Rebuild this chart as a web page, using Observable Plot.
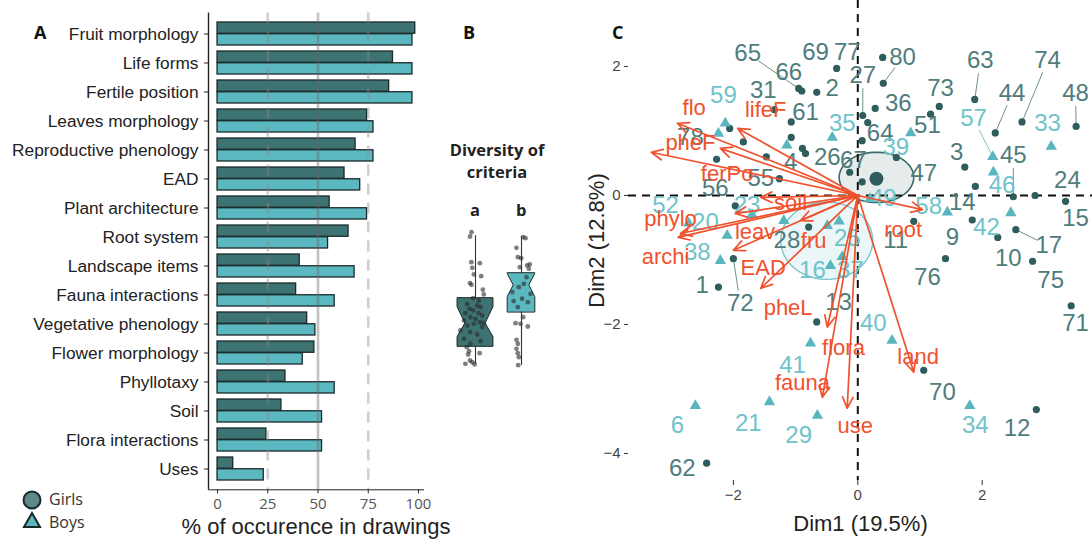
<!DOCTYPE html>
<html><head><meta charset="utf-8">
<script src="https://cdn.jsdelivr.net/npm/d3@7"></script>
<script src="https://cdn.jsdelivr.net/npm/@observablehq/plot@0.6"></script>
<style>
body{margin:0;background:#fff;}
#wrap{position:relative;width:1092px;height:542px;overflow:hidden;background:#fff;}
.pan{position:absolute;top:0;}
.plet{position:absolute;font-family:"Open Sans",sans-serif;font-weight:700;font-size:18px;color:#111;line-height:1;}
.btitle{position:absolute;font-family:"Open Sans",sans-serif;font-weight:700;font-size:16.5px;color:#222;text-align:center;line-height:22px;}
.leg{position:absolute;font-family:"Open Sans",sans-serif;font-size:16px;color:#333;line-height:23px;}
.pa g[aria-label="x-axis tick label"] text{font-family:"Open Sans",sans-serif;fill:#555;font-size:15px;}
.pa g[aria-label="y-axis tick label"] text{fill:#222;font-size:17.3px;}
.pa g[aria-label="x-axis label"] text{font-size:22px;fill:#222;}
.pc g[aria-label="x-axis tick label"] text,.pc g[aria-label="y-axis tick label"] text{fill:#444;font-size:15px;}
.pc g[aria-label="x-axis label"] text,.pc g[aria-label="y-axis label"] text{font-size:22px;fill:#222;}
</style>
</head><body>
<div id="wrap"></div>
<script>
// ---------- Panel A data ----------
const categories = ["Fruit morphology","Life forms","Fertile position","Leaves morphology","Reproductive phenology","EAD","Plant architecture","Root system","Landscape items","Fauna interactions","Vegetative phenology","Flower morphology","Phyllotaxy","Soil","Flora interactions","Uses"];
const girlsPct = [98.4, 87.3, 85.4, 74.4, 68.7, 63.2, 55.8, 65.2, 40.9, 39.1, 44.6, 48.2, 33.8, 31.8, 24.3, 7.8];
const boysPct  = [97.0, 97.0, 97.0, 77.6, 77.6, 71.0, 74.4, 55.0, 68.2, 58.3, 48.7, 42.4, 58.3, 52.0, 52.0, 23.0];
const xTicksA = [0, 25, 50, 75, 100];

// ---------- Panel B data (diversity of criteria) ----------
const boxGroups = ["Girls", "Boys"];
const boxCenter = [0, 1];
const boxLow    = [0.9, 0.78];
const boxQ1     = [2.89, 6.7];
const boxNotchLo= [3.92, 8.37];
const boxMedian = [5.44, 9.67];
const boxNotchHi= [7.26, 10.95];
const boxQ3     = [8.26, 11.03];
const boxHigh   = [15.2, 15.1];
const girlsDiv = [15.59,15.11,12.26,12.15,11.63,10.89,10.70,9.93,9.74,9.19,8.67,8.26,8.0,7.63,7.44,7.26,7.07,6.89,6.59,6.59,6.33,6.15,5.96,5.78,5.59,5.48,5.22,5.41,5.04,4.67,4.48,4.22,3.74,3.48,3.19,2.81,2.37,2.15,2.0,1.33,1.15,0.96,0.89];
const girlsJit = [-0.087,-0.12,-0.09,0.094,-0.07,-0.036,0.123,-0.12,-0.087,0.16,0.18,-0.051,0.072,-0.181,0.036,0.109,-0.13,-0.05,-0.22,0.07,0.145,-0.11,0,-0.25,0.094,0.18,-0.18,-0.036,0.145,-0.33,-0.12,0.036,-0.25,0.11,-0.11,-0.19,-0.14,0.09,-0.16,-0.12,-0.07,-0.22,-0.02];
const boysDiv = [15.04,14.92,13.85,12.81,12.70,11.89,12.0,11.70,11.52,10.59,9.85,9.48,8.93,8.74,8.19,7.93,7.81,7.26,6.15,5.48,5.41,5.11,3.63,3.19,2.63,2.15,1.70,0.81];
const boysJit = [0.036,0.087,-0.109,-0.08,-0.007,0.123,0.18,-0.036,0.16,0.109,0.05,-0.058,-0.2,0.196,0.014,-0.17,0.138,-0.08,0.036,-0.13,-0.022,0.138,-0.109,-0.08,-0.109,-0.08,-0.058,-0.072];

// ---------- Panel C data (PCA biplot) ----------
const gLab = ["65","66","2","69","77","80","27","31","61","36","73","51","64","63","44","74","48","3","45","24","47","67","26","4","55","56","78","14","9","17","10","75","15","76","71","11","28","1","72","13","12","62","70","","","","","",""];
const gX   = [-0.95,-0.90,-0.66,-0.34,0.40,0.41,0.08,-1.34,-1.07,0.28,1.31,1.17,0.16,1.88,2.21,2.64,3.51,1.72,2.50,2.85,0.62,-0.13,-0.84,-1.47,-1.26,-2.27,-2.06,1.89,1.84,2.54,2.25,2.81,3.34,1.41,3.43,0.90,-0.79,-2.24,-2.00,-0.66,2.87,-2.43,1.06,-1.84,-1.07,-0.89,0.07,0.07,-1.97];
const gY   = [1.66,1.62,1.60,1.97,2.14,1.74,1.24,1.33,1.14,1.35,1.38,1.26,1.13,1.49,0.97,1.14,1.07,0.44,-0.02,0.0,0.59,0.36,0.65,0.60,0.26,0.56,1.04,0.14,-0.38,-0.53,-0.65,-1.02,-0.09,-0.98,-1.71,-0.40,-0.49,-1.42,-0.98,-1.96,-3.32,-4.15,-2.71,0.83,0.90,0.73,0.85,0.21,-0.16];
const gLX  = [-1.77,-1.11,-0.41,-0.68,-0.17,0.72,0.08,-1.52,-0.84,0.65,1.33,1.12,0.36,1.97,2.48,3.05,3.50,1.59,2.50,3.37,1.06,-0.07,-0.49,-1.08,-1.56,-2.29,-2.69,1.68,1.52,3.07,2.42,3.10,3.50,1.12,3.50,0.61,-1.14,-2.50,-1.89,-0.31,2.56,-2.82,1.36,0,0,0,0,0,0];
const gLY  = [2.20,1.91,1.66,2.22,2.22,2.14,1.86,1.63,1.29,1.43,1.66,1.09,0.96,2.09,1.58,2.09,1.58,0.67,0.62,0.23,0.34,0.54,0.59,0.52,0.26,0.11,0.90,-0.10,-0.65,-0.78,-0.98,-1.32,-0.36,-1.27,-1.98,-0.70,-0.70,-1.40,-1.67,-1.65,-3.61,-4.23,-3.05,0,0,0,0,0,0];
const gLeaders = ["65","27","80","63","44","74","48","45","17","72"];

const bLab = ["59","35","39","57","33","46","58","42","52","20","38","16","25","37","23","49","40","41","21","6","29","34","","","",""];
const bX   = [-2.13,-0.41,0.85,2.17,3.11,2.18,1.44,2.46,-2.72,-2.10,-2.21,-0.44,-0.49,-0.25,-1.70,0.20,0.55,-0.76,-1.42,-2.61,-0.65,1.80,-2.24,-1.14,-1.19,-0.30];
const bY   = [1.12,0.90,0.97,0.60,0.76,0.36,-0.26,-0.27,-0.43,-0.62,-1.01,-1.09,-0.47,-0.95,-0.30,-0.05,-2.25,-2.29,-3.20,-3.26,-3.41,-3.26,0.96,0.78,-0.39,-0.40];
const bLX  = [-2.16,-0.25,0.61,1.86,3.05,2.32,1.14,2.07,-3.09,-2.45,-2.58,-0.73,-0.17,-0.12,-1.78,0.41,0.25,-1.05,-1.76,-2.90,-0.95,1.89,0,0,0,0];
const bLY  = [1.55,1.12,0.75,1.19,1.12,0.16,-0.17,-0.49,-0.16,-0.41,-0.88,-1.16,-0.67,-1.16,-0.16,-0.05,-1.98,-2.64,-3.53,-3.57,-3.72,-3.57,0,0,0,0];
const bLeaders = ["57"];

const varNames = ["flo","lifeF","pheF","ferPo","soil","leav","fru","phylo","archi","EAD","pheL","flora","fauna","use","land","root"];
const varX  = [-2.90,-1.93,-3.32,-2.21,-1.56,-1.97,-0.92,-2.85,-2.89,-2.00,-1.56,-0.49,-0.57,-0.17,0.90,1.04];
const varY  = [1.12,1.04,0.67,0.73,-0.03,-0.28,-0.39,-0.59,-0.65,-0.85,-1.44,-2.04,-3.13,-3.30,-2.74,-0.22];
const varLX = [-2.63,-1.48,-2.69,-2.10,-1.08,-1.65,-0.71,-3.01,-3.09,-1.52,-1.12,-0.23,-0.89,-0.04,0.97,0.73];
const varLY = [1.36,1.32,0.81,0.33,-0.12,-0.57,-0.70,-0.36,-0.95,-1.12,-1.74,-2.37,-2.90,-3.58,-2.51,-0.54];

const ellGroups = ["Girls","Boys"];
const ellCX = [0.30, -0.50];
const ellCY = [0.28, -0.70];
const ellRX = [0.60, 0.74];
const ellRY = [0.39, 0.60];
const meanX = [0.30];
const meanY = [0.26];

// ---------- colours ----------
const cGirl = "#3e7373", cBoy = "#5cb8c0", cRed = "#f2512d";
const wrap = document.getElementById("wrap");
function place(node, left, cls) { node.classList.add("pan"); if (cls) node.classList.add(cls); node.style.left = left + "px"; wrap.appendChild(node); }

// ================= Panel A =================
const girlsA = categories.map((c, i) => ({cat: c, v: girlsPct[i]}));
const boysA = categories.map((c, i) => ({cat: c, v: boysPct[i]}));
const plotA = Plot.plot({
  width: 440, height: 542, marginLeft: 208, marginRight: 17, marginTop: 12.5, marginBottom: 52.7,
  style: {fontFamily: "Liberation Sans, Arial, sans-serif", fontSize: "17px", color: "#222", background: "transparent", overflow: "visible"},
  x: {domain: [-4.5, 102.5], ticks: xTicksA, tickSize: 4, line: true, label: "% of occurence in drawings", labelAnchor: "center", labelOffset: 44, labelArrow: false},
  y: {domain: categories, padding: 0.2, tickSize: 4, tickPadding: 6, label: null},
  marks: [
    Plot.barX(girlsA, {x: "v", y: "cat", insetBottom: 11.75, fill: cGirl, stroke: "#1b2828", strokeWidth: 1.3}),
    Plot.barX(boysA, {x: "v", y: "cat", insetTop: 11.75, fill: cBoy, stroke: "#1b2828", strokeWidth: 1.3}),
    Plot.ruleX([50], {stroke: "#666", strokeOpacity: 0.4, strokeWidth: 2.6}),
    Plot.ruleX([25, 75], {stroke: "#888", strokeOpacity: 0.4, strokeWidth: 2.6, strokeDasharray: "11,8"}),
    Plot.ruleX([-4.5], {stroke: "#222", strokeWidth: 1.4})
  ]
});
place(plotA, 0, "pa");

// ================= Panel B =================
const shapes = [];
boxGroups.forEach((g, i) => {
  const c = boxCenter[i], hw = i === 0 ? 0.39 : 0.30, nw = i === 0 ? 0.22 : 0.17;
  [[boxQ1[i], hw], [boxNotchLo[i], hw], [boxMedian[i], nw], [boxNotchHi[i], hw], [boxQ3[i], hw]]
    .forEach(([v, w]) => shapes.push({g, v, a: c - w, b: c + w}));
});
const whisk = boxGroups.map((g, i) => ({g, c: boxCenter[i], lo: boxLow[i], hi: boxHigh[i]}));
const ptsB = [
  ...girlsDiv.map((v, i) => ({v, x: boxCenter[0] + girlsJit[i]})),
  ...boysDiv.map((v, i) => ({v, x: boxCenter[1] + boysJit[i]}))
];
const plotB = Plot.plot({
  width: 150, height: 542, margin: 0,
  style: {background: "transparent", overflow: "visible"},
  x: {domain: [-0.761, 2.5], axis: null},
  y: {domain: [-18.89, 41.33], axis: null},
  marks: [
    Plot.ruleX(whisk, {x: "c", y1: "lo", y2: "hi", stroke: "#333", strokeWidth: 1.1}),
    Plot.areaX(shapes.filter(d => d.g === "Girls"), {y: "v", x1: "a", x2: "b", fill: cGirl, stroke: "#1b2828", strokeWidth: 1, curve: "linear"}),
    Plot.areaX(shapes.filter(d => d.g === "Boys"), {y: "v", x1: "a", x2: "b", fill: cBoy, stroke: "#1b2828", strokeWidth: 1, curve: "linear"}),
    Plot.dot(ptsB, {x: "x", y: "v", r: 2.4, fill: "#2a2a2a", fillOpacity: 0.6, stroke: "none"})
  ]
});
place(plotB, 440);

// ================= Panel C =================
const girlsC = gLab.map((l, i) => ({l, x: gX[i], y: gY[i], lx: gLX[i], ly: gLY[i]}));
const boysC = bLab.map((l, i) => ({l, x: bX[i], y: bY[i], lx: bLX[i], ly: bLY[i]}));
const varsC = varNames.map((n, i) => ({n, x: varX[i], y: varY[i], lx: varLX[i], ly: varLY[i]}));
const ells = [];
ellGroups.forEach((g, i) => {
  for (let k = 0; k <= 72; k++) {
    const t = k / 72 * 2 * Math.PI;
    ells.push({g, x: ellCX[i] + ellRX[i] * Math.cos(t), y: ellCY[i] + ellRY[i] * Math.sin(t)});
  }
});
const plotC = Plot.plot({
  width: 512, height: 542, marginLeft: 48, marginRight: 0, marginTop: 0, marginBottom: 62,
  style: {fontFamily: "Liberation Sans, Arial, sans-serif", fontSize: "15px", color: "#333", background: "transparent", overflow: "visible"},
  x: {domain: [-3.686, 3.773], ticks: [-2, 0, 2], tickSize: 5, tickPadding: 4, label: "Dim1 (19.5%)", labelAnchor: "center", labelOffset: 50, labelArrow: false},
  y: {domain: [-4.419, 3.023], ticks: [-4, -2, 0, 2], tickSize: 4, tickPadding: 4, label: "Dim2 (12.8%)", labelAnchor: "center", labelOffset: 40, labelArrow: false},
  marks: [
    Plot.line(ells.filter(d => d.g === "Girls"), {x: "x", y: "y", fill: "#dde5e5", fillOpacity: 0.75, stroke: "#3b6b6b", strokeWidth: 1.6}),
    Plot.line(ells.filter(d => d.g === "Boys"), {x: "x", y: "y", fill: cBoy, fillOpacity: 0.13, stroke: "#7cc6cc", strokeWidth: 1.4}),
    Plot.ruleX([0], {stroke: "#111", strokeWidth: 2, strokeDasharray: "8,6"}),
    Plot.ruleY([0], {stroke: "#111", strokeWidth: 2, strokeDasharray: "8,6"}),
    Plot.arrow(girlsC.filter(d => gLeaders.includes(d.l)), {x1: "x", y1: "y", x2: "lx", y2: "ly", headLength: 0, insetStart: 3, insetEnd: 13, stroke: "#6e8f8f", strokeWidth: 1}),
    Plot.arrow(boysC.filter(d => bLeaders.includes(d.l)), {x1: "x", y1: "y", x2: "lx", y2: "ly", headLength: 0, insetStart: 4, insetEnd: 13, stroke: "#7cc6cc", strokeWidth: 1}),
    Plot.dot(girlsC, {x: "x", y: "y", r: 3.6, fill: "#2f5d5d", stroke: "none"}),
    Plot.dot(boysC, {x: "x", y: "y", r: 4.2, symbol: "triangle", fill: "#58b6be", stroke: "none"}),
    Plot.text(girlsC, {x: "lx", y: "ly", text: "l", fill: "#4f7c7c", fontSize: 24}),
    Plot.text(boysC, {x: "lx", y: "ly", text: "l", fill: "#6fc3ca", fontSize: 24}),
    Plot.dot(meanX.map((x, i) => ({x, y: meanY[i]})), {x: "x", y: "y", r: 7, fill: "#2f5d5d"}),
    Plot.arrow(varsC, {x1: 0, y1: 0, x2: "x", y2: "y", stroke: cRed, strokeWidth: 1.7, headLength: 11, headAngle: 50}),
    Plot.text(varsC, {x: "lx", y: "ly", text: "n", fill: cRed, fontSize: 22})
  ]
});
place(plotC, 580, "pc");

// ---------- HTML annotations ----------
function addDiv(cls, html, left, top, extra) {
  const d = document.createElement("div"); d.className = cls; d.innerHTML = html;
  d.style.left = left + "px"; d.style.top = top + "px"; if (extra) Object.assign(d.style, extra);
  wrap.appendChild(d); return d;
}
addDiv("plet", "A", 34, 23);
addDiv("plet", "B", 463, 23);
addDiv("plet", "C", 612, 23);
addDiv("btitle", "Diversity of<br>criteria", 427, 139, {width: "140px"});
addDiv("btitle", "a", 470, 199);
addDiv("btitle", "b", 516, 199);
addDiv("leg", 'Girls<br>Boys', 49, 488);
const legSvg = document.createElementNS("http://www.w3.org/2000/svg", "svg");
legSvg.setAttribute("width", "30"); legSvg.setAttribute("height", "44");
legSvg.style.position = "absolute"; legSvg.style.left = "17px"; legSvg.style.top = "489px";
legSvg.innerHTML = '<circle cx="15" cy="11" r="8.5" fill="#5b8989" stroke="#1a2828" stroke-width="2"/><polygon points="15,24 23,38 7,38" fill="#5cb8c0" stroke="#1a2828" stroke-width="2"/>';
wrap.appendChild(legSvg);
</script>
</body></html>
